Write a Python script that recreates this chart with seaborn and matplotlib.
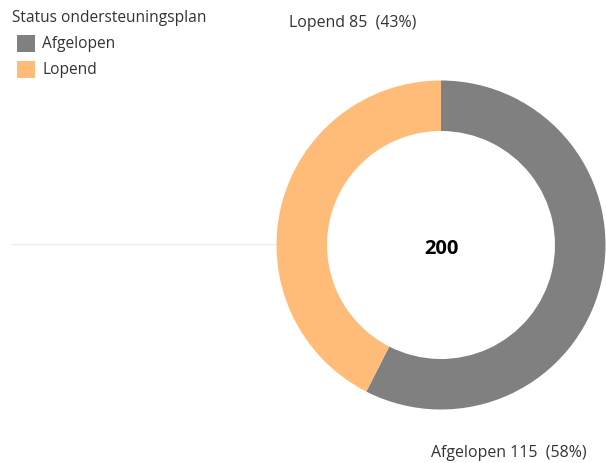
import matplotlib
matplotlib.use("Agg")
import matplotlib.pyplot as plt
import matplotlib.patches as mpatches
import seaborn as sns

# data
statussen = ["Afgelopen", "Lopend"]
aantallen = [115, 85]
kleuren = ["#808080", "#ffbb78"]
legenda_titel = "Status ondersteuningsplan"

sns.set_theme(style="white")
plt.rcParams["font.family"] = ["Open Sans", "DejaVu Sans"]

fig = plt.figure(figsize=(6.06, 4.64), dpi=100)
ax = fig.add_axes([0, 0, 1, 1])

H = 464
cx, cy, r = 441, H - 246, 164.5

ax.pie(aantallen, colors=kleuren, startangle=90, counterclock=False,
       center=(cx, cy), radius=r,
       wedgeprops=dict(width=r - 114, edgecolor="none", linewidth=0))
ax.set_xlim(0, 606)
ax.set_ylim(0, H)
ax.set_aspect("equal")
ax.axis("off")

# faint reference line left of the donut
ax.plot([12, 276], [H - 245, H - 245], color="#efefef", lw=1, zorder=0)

totaal = sum(aantallen)
ax.text(cx, cy - 3, f"{totaal}", ha="center", va="center",
        fontsize=14.5, fontweight="bold", color="black")

def label(i):
    # afronden zoals Tableau (half naar boven)
    pct = (200 * aantallen[i] + totaal) // (2 * totaal)
    return f"{statussen[i]} {aantallen[i]}  ({pct}%)"

ax.text(289, H - 23, label(1), ha="left", va="center", fontsize=11.4, color="#333333")
ax.text(431, H - 453, label(0), ha="left", va="center", fontsize=11.4, color="#333333")

# legenda
ax.text(12, H - 18, legenda_titel, ha="left", va="center", fontsize=11.2, color="#333333")
for i, (naam, kleur) in enumerate(zip(statussen, kleuren)):
    y = H - 44 - 26 * i
    ax.add_patch(mpatches.Rectangle((17, y - 8.5), 18, 17, facecolor=kleur,
                                    edgecolor="none"))
    ax.text(42, y, naam, ha="left", va="center", fontsize=11.2, color="#333333")

fig.savefig("out.png", dpi=100)
